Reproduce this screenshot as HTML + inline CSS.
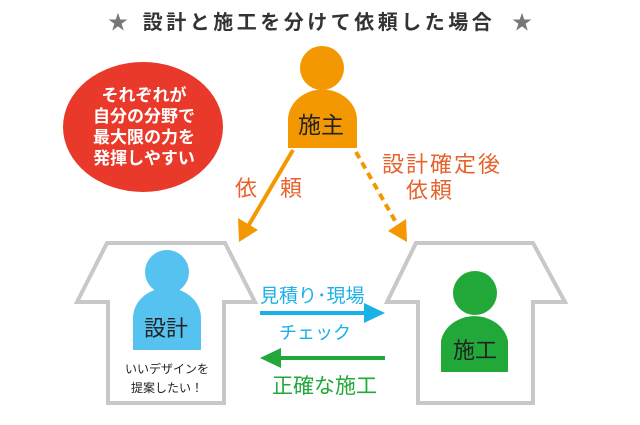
<!DOCTYPE html>
<html><head><meta charset="utf-8"><style>
body{margin:0;background:#fff}
svg text{font-family:"Liberation Sans","Noto Sans CJK JP",sans-serif}
</style></head><body>
<svg width="640" height="420" viewBox="0 0 640 420" xmlns="http://www.w3.org/2000/svg">
<text x="108" y="29" font-size="20" fill="#777">★</text>
<text x="512" y="29" font-size="20" fill="#777">★</text>
<text x="319" y="29" text-anchor="middle" font-size="20" font-weight="bold" fill="#333" letter-spacing="3.5">設計と施工を分けて依頼した場合</text>
<ellipse cx="143" cy="127" rx="80" ry="65" fill="#e8392b"/>
<g fill="#fff" font-size="17" font-weight="bold" text-anchor="middle">
<text x="144" y="101">それぞれが</text>
<text x="144" y="122">自分の分野で</text>
<text x="144" y="143">最大限の力を</text>
<text x="144" y="164">発揮しやすい</text>
</g>
<circle cx="322" cy="68" r="22" fill="#f39800"/>
<path d="M288 148 V120 A34 30 0 0 1 357 120 V148 Z" fill="#f39800"/>
<text x="321" y="133" text-anchor="middle" font-size="23" fill="#222">施主</text>
<line x1="293" y1="150" x2="247" y2="228" stroke="#f39800" stroke-width="4"/>
<polygon points="239,242 238,218 258,230" fill="#f39800"/>
<line x1="356" y1="152" x2="398" y2="226" stroke="#f39800" stroke-width="4" stroke-dasharray="7,5"/>
<polygon points="407,242 388,231 406,219" fill="#f39800"/>
<g fill="#e8622b" font-size="22">
<text x="235" y="196">依</text><text x="280" y="196">頼</text>
<text x="382" y="172" letter-spacing="2">設計確定後</text><text x="406" y="198" letter-spacing="2">依頼</text>
</g>
<g fill="#fff" stroke="#c8c8c8" stroke-width="4">
<polygon points="107,243 225,243 255,302 224,302 224,403 108,403 108,302 77,302"/>
<polygon points="416,243 533,243 565,302 533,302 533,403 418,403 418,302 387,302"/>
</g>
<circle cx="167" cy="272" r="22" fill="#56c2f0"/>
<path d="M133 350 V318 A34 30 0 0 1 201 318 V350 Z" fill="#56c2f0"/>
<text x="166" y="336" text-anchor="middle" font-size="22" fill="#222">設計</text>
<text x="167" y="373" text-anchor="middle" font-size="12" fill="#222">いいデザインを</text>
<text x="167" y="392" text-anchor="middle" font-size="12" fill="#222">提案したい！</text>
<circle cx="475" cy="293" r="22" fill="#22a838"/>
<path d="M441 372 V341 A34 30 0 0 1 508 341 V372 Z" fill="#22a838"/>
<text x="475" y="358" text-anchor="middle" font-size="22" fill="#222">施工</text>
<text x="260" y="302" font-size="19" fill="#1ab0e8">見積り･現場</text>
<line x1="260" y1="313" x2="370" y2="313" stroke="#1ab0e8" stroke-width="4"/>
<polygon points="385,313 364,303 364,323" fill="#1ab0e8"/>
<text x="279" y="339" font-size="18" fill="#1ab0e8">チェック</text>
<line x1="385" y1="358" x2="275" y2="358" stroke="#22a838" stroke-width="4"/>
<polygon points="260,358 281,348 281,368" fill="#22a838"/>
<text x="272" y="393" font-size="21" fill="#22a838">正確な施工</text>
</svg>
</body></html>
